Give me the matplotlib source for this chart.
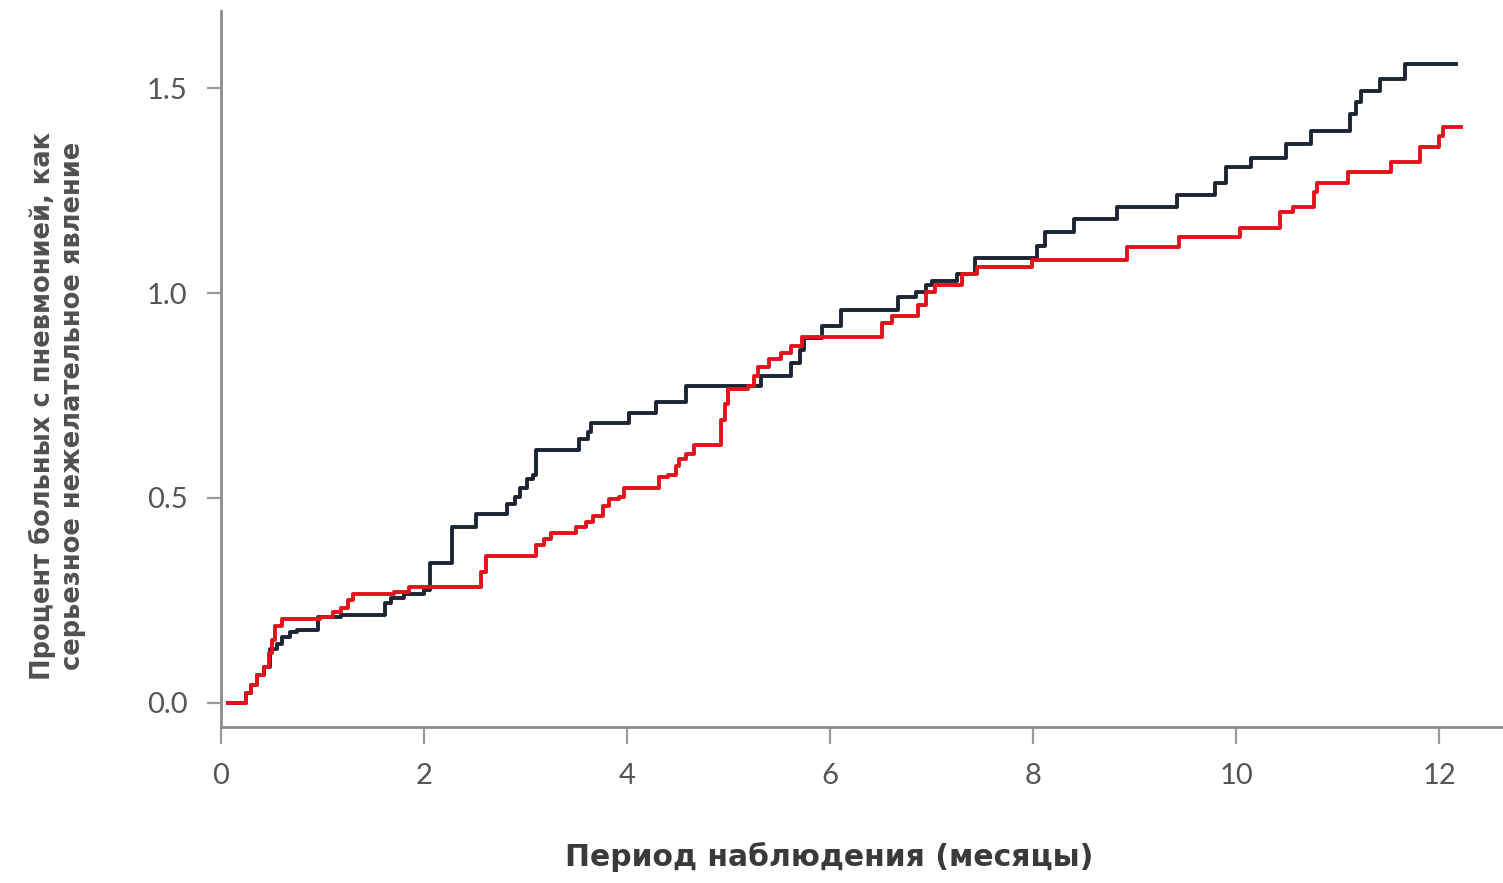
import matplotlib
matplotlib.use("Agg")
import matplotlib.pyplot as plt

# Black (dark navy) curve: step times (months) and cumulative percent
black_t = [0.07, 0.25, 0.30, 0.36, 0.42, 0.48, 0.55, 0.60, 0.68, 0.75, 0.96, 1.18,
           1.62, 1.68, 1.80, 2.00, 2.06, 2.28, 2.51, 2.82, 2.90, 2.95, 3.02, 3.07,
           3.10, 3.53, 3.62, 3.65, 4.02, 4.29, 4.58, 5.32, 5.62, 5.70, 5.74, 5.92,
           6.11, 6.67, 6.85, 6.95, 7.00, 7.25, 7.43, 8.04, 8.12, 8.40, 8.83, 9.42,
           9.79, 9.90, 10.15, 10.49, 10.74, 11.12, 11.18, 11.23, 11.42, 11.66, 12.17]
black_v = [0.0, 0.024, 0.044, 0.068, 0.088, 0.13, 0.142, 0.159, 0.173, 0.178, 0.208, 0.215,
           0.244, 0.256, 0.265, 0.276, 0.342, 0.43, 0.46, 0.484, 0.503, 0.525, 0.545, 0.557,
           0.618, 0.643, 0.662, 0.684, 0.708, 0.735, 0.772, 0.797, 0.83, 0.86, 0.89, 0.92,
           0.96, 0.99, 1.004, 1.02, 1.03, 1.046, 1.087, 1.114, 1.15, 1.18, 1.21, 1.24,
           1.27, 1.307, 1.33, 1.365, 1.395, 1.437, 1.466, 1.493, 1.522, 1.559, 1.559]

# Red curve
red_t = [0.07, 0.25, 0.30, 0.36, 0.42, 0.47, 0.50, 0.53, 0.60, 0.98, 1.10, 1.18,
         1.25, 1.30, 1.70, 1.85, 2.56, 2.61, 3.10, 3.18, 3.25, 3.50, 3.60, 3.67,
         3.76, 3.82, 3.92, 3.97, 4.32, 4.40, 4.48, 4.51, 4.58, 4.66, 4.93, 4.97,
         5.00, 5.19, 5.25, 5.29, 5.40, 5.52, 5.62, 5.72, 6.51, 6.61, 6.87, 6.95,
         7.03, 7.30, 7.45, 7.99, 8.93, 9.44, 10.04, 10.43, 10.56, 10.77, 10.80,
         11.10, 11.53, 11.81, 12.00, 12.04, 12.22]
red_v = [0.0, 0.024, 0.044, 0.068, 0.088, 0.12, 0.154, 0.186, 0.203, 0.21, 0.22, 0.232,
         0.25, 0.264, 0.27, 0.283, 0.318, 0.357, 0.386, 0.40, 0.415, 0.428, 0.442, 0.455,
         0.479, 0.496, 0.503, 0.525, 0.55, 0.557, 0.578, 0.594, 0.606, 0.63, 0.69, 0.73,
         0.765, 0.772, 0.797, 0.82, 0.838, 0.855, 0.87, 0.894, 0.928, 0.943, 0.972, 1.004,
         1.02, 1.046, 1.063, 1.082, 1.112, 1.138, 1.16, 1.197, 1.21, 1.246, 1.27,
         1.297, 1.32, 1.356, 1.383, 1.407, 1.407]

x_ticks = [0, 2, 4, 6, 8, 10, 12]
y_ticks = [0.0, 0.5, 1.0, 1.5]
y_tick_labels = ["0.0", "0.5", "1.0", "1.5"]
x_label = "Период наблюдения (месяцы)"
y_label = "Процент больных с пневмонией, как\nсерьезное нежелательное явление"

fig = plt.figure(figsize=(15.03, 8.83), dpi=100)
ax = fig.add_axes([0.147, 0.177, 0.853, 0.81])

ax.step(black_t, black_v, where="post", color="#1c2534", lw=2.8, zorder=3)
ax.step(red_t, red_v, where="post", color="#e3121b", lw=2.8, zorder=4)

ax.set_xlim(0, 12.63)
ax.set_ylim(-0.059, 1.688)
ax.set_xticks(x_ticks)
ax.set_yticks(y_ticks)
ax.set_yticklabels(y_tick_labels)

for s in ["top", "right"]:
    ax.spines[s].set_visible(False)
for s in ["left", "bottom"]:
    ax.spines[s].set_color("#8c8c8c")
    ax.spines[s].set_linewidth(2.0)

tick_font = ["Lato", "DejaVu Sans"]
ax.tick_params(axis="x", length=12, width=1.6, color="#9a9a9a", pad=14,
               labelsize=21, labelcolor="#555555")
ax.tick_params(axis="y", length=10, width=1.6, color="#9a9a9a", pad=14,
               labelsize=21, labelcolor="#555555")
for lab in ax.get_xticklabels() + ax.get_yticklabels():
    lab.set_family(tick_font)

fig.text(0.552, 0.013, x_label, ha="center", va="bottom", fontsize=21.5,
         fontweight="bold", color="#3a3a3a",
         family=["DejaVu Sans"])
fig.text(0.038, 0.54, y_label, ha="center", va="center", rotation=90,
         fontsize=18.5, fontweight="bold", color="#505050", linespacing=1.2,
         family=["DejaVu Sans"])

fig.savefig("out.png", dpi=100)
